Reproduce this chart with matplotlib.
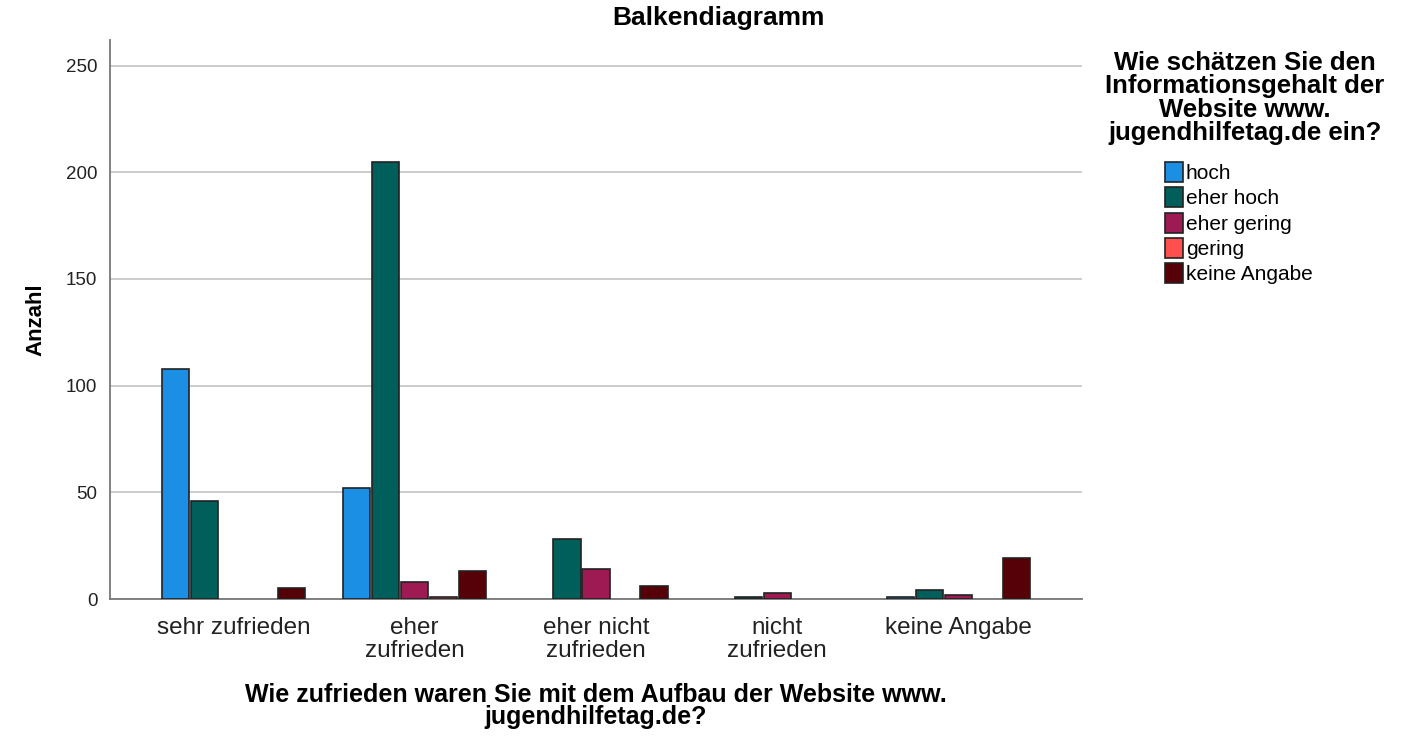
import matplotlib
matplotlib.use("Agg")
import matplotlib.pyplot as plt
import numpy as np

plt.rcParams['font.family'] = ['Liberation Sans', 'DejaVu Sans']

# Kategorien (x-Achse) und Gruppen (Legende)
kategorien = ["sehr zufrieden", "eher\nzufrieden", "eher nicht\nzufrieden",
              "nicht\nzufrieden", "keine Angabe"]
gruppen = ["hoch", "eher hoch", "eher gering", "gering", "keine Angabe"]

hoch = [108, 52, 0, 0, 1]
eher_hoch = [46, 205, 28, 1, 4]
eher_gering = [0, 8, 14, 3, 2]
gering = [0, 1, 0, 0, 0]
keine_angabe = [5, 13, 6, 0, 19]

farben = ["#1a8fe3", "#005e5b", "#9e1a52", "#ff4f4f", "#560008"]
werte = [hoch, eher_hoch, eher_gering, gering, keine_angabe]

fig = plt.figure(figsize=(14.02, 7.36), dpi=100)
ax = fig.add_axes([110/1402, 1-599/736, (1082-110)/1402, (599-40)/736])

x = np.arange(len(kategorien))
breite = 0.152
for i, (serie, farbe, name) in enumerate(zip(werte, farben, gruppen)):
    serie = np.array(serie, dtype=float)
    sichtbar = serie > 0          # leere Balken nicht zeichnen
    ax.bar((x + (i - 2) * 0.16)[sichtbar], serie[sichtbar], breite, color=farbe,
           edgecolor="#222222", linewidth=1.2, zorder=3)
    ax.bar([np.nan], [np.nan], color=farbe, edgecolor="#222222", linewidth=1.2,
           label=name)

ax.set_xlim(-0.68, 4.68)
ax.set_ylim(0, 262)
ax.set_yticks([0, 50, 100, 150, 200, 250])
ax.yaxis.grid(True, color="#c8c8c8", linewidth=1.3, zorder=0)
ax.set_xticks(x)
ax.set_xticklabels(kategorien, fontsize=17.5, linespacing=1.08)
ax.tick_params(axis="x", length=0, pad=13, colors="#222222")
ax.tick_params(axis="y", length=0, labelsize=13.5, pad=9, colors="#222222")
for s in ["top", "right"]:
    ax.spines[s].set_visible(False)
for s in ["left", "bottom"]:
    ax.spines[s].set_color("#777777")
    ax.spines[s].set_linewidth(1.3)

ax.set_ylabel("Anzahl", fontsize=16, fontweight="bold", labelpad=14)

fig.text(718/1402, 1-18/736, "Balkendiagramm", ha="center", va="center",
         fontsize=19, fontweight="bold")
fig.text(596/1402, 1-706/736,
         "Wie zufrieden waren Sie mit dem Aufbau der Website www.\njugendhilfetag.de?",
         ha="center", va="center", fontsize=18, fontweight="bold", linespacing=0.88)
fig.text(1245/1402, 1-98/736,
         "Wie schätzen Sie den\nInformationsgehalt der\nWebsite www.\njugendhilfetag.de ein?",
         ha="center", va="center", fontsize=18.5, fontweight="bold", linespacing=0.98)

leg = ax.legend(loc="upper left", bbox_to_anchor=(1165/1402, 1-162/736),
                bbox_transform=fig.transFigure, frameon=False, fontsize=15,
                handlelength=0.85, handleheight=1.1, handletextpad=0.15,
                labelspacing=0.2, borderaxespad=0, borderpad=0)

fig.savefig("out.png", dpi=100)
